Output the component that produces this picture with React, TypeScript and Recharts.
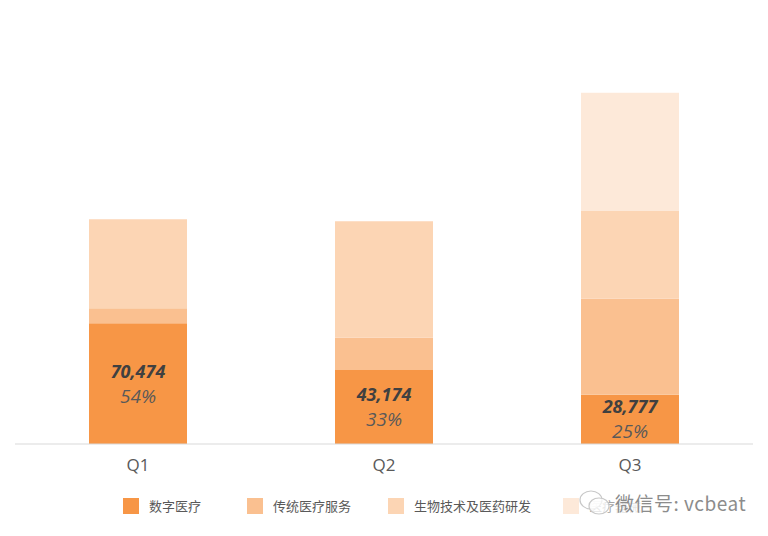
import { BarChart, Bar, XAxis, YAxis, LabelList } from "recharts";

const quarters = ["Q1", "Q2", "Q3"];
const digital = [70474, 43174, 28777];
const traditional = [8700, 18800, 55900];
const biotech = [51900, 68000, 51300];
const devices = [0, 0, 68900];
const digitalShare = ["54%", "33%", "25%"];

const seriesNames = ["数字医疗", "传统医疗服务", "生物技术及医药研发", "医疗器械"];
const colors = ["#F79646", "#FAC090", "#FCD5B4", "#FDE9D9"];
const legendLeft = [123, 247, 388, 563];

const data = quarters.map((q, i) => ({
  name: q,
  digital: digital[i],
  traditional: traditional[i],
  biotech: biotech[i],
  devices: devices[i],
  share: digitalShare[i],
}));

const font = "'Open Sans', 'Noto Sans CJK SC', sans-serif";
const cjk = "'Noto Sans CJK SC', sans-serif";

function InnerLabel(props: any) {
  const { x, y, width, height, index } = props;
  const cx = x + width / 2;
  const cy = y + height / 2;
  return (
    <g>
      <text x={cx} y={cy - 13} textAnchor="middle" dominantBaseline="central"
        fontFamily={font} fontSize={18} fontWeight="bold" fontStyle="italic" fill="#404040">
        {digital[index].toLocaleString("en-US")}
      </text>
      <text x={cx} y={cy + 12} textAnchor="middle" dominantBaseline="central"
        fontFamily={font} fontSize={19} fontStyle="italic" fill="#595959">
        {digitalShare[index]}
      </text>
    </g>
  );
}

export default function App() {
  return (
    <div style={{ position: "absolute", left: 0, top: 0, width: 768, height: 536, background: "#fff", fontFamily: font }}>
      <BarChart width={768} height={536} data={data}
        margin={{ top: 84, right: 15, bottom: 62, left: 15 }}>
        <XAxis dataKey="name" axisLine={{ stroke: "#D9D9D9" }} tickLine={false}
          tickSize={0} tickMargin={15} height={30}
          tick={{ fill: "#595959", fontSize: 17, fontFamily: font }} />
        <YAxis hide domain={[0, 210000]} />
        <Bar dataKey="digital" stackId="a" fill={colors[0]} barSize={98} isAnimationActive={false}>
          <LabelList dataKey="digital" content={InnerLabel} />
        </Bar>
        <Bar dataKey="traditional" stackId="a" fill={colors[1]} barSize={98} isAnimationActive={false} />
        <Bar dataKey="biotech" stackId="a" fill={colors[2]} barSize={98} isAnimationActive={false} />
        <Bar dataKey="devices" stackId="a" fill={colors[3]} barSize={98} isAnimationActive={false} />
      </BarChart>

      {seriesNames.map((n, i) => (
        <div key={n} style={{ position: "absolute", left: legendLeft[i], top: 498, display: "flex", alignItems: "center" }}>
          <span style={{ width: 16, height: 16, background: colors[i], display: "inline-block" }} />
          <span style={{ marginLeft: 10, fontSize: 13, color: i === 3 ? "#A6A6A6" : "#595959", fontFamily: cjk,
            lineHeight: "16px", whiteSpace: "nowrap" }}>{n}</span>
        </div>
      ))}

      {/* watermark over the last legend entry */}
      <svg style={{ position: "absolute", left: 578, top: 488 }} width={34} height={30}>
        <ellipse cx={13} cy={12} rx={11} ry={9} fill="rgba(255,255,255,0.75)" stroke="#C8C8C8" strokeWidth={1.2} />
        <ellipse cx={21} cy={18} rx={10} ry={8} fill="rgba(255,255,255,0.75)" stroke="#C8C8C8" strokeWidth={1.2} />
      </svg>
      <div style={{ position: "absolute", left: 615, top: 491, fontSize: 19, color: "#8C8C8C",
        fontFamily: cjk, lineHeight: "24px", letterSpacing: 0.5, background: "rgba(255,255,255,0.7)" }}>
        微信号: vcbeat
      </div>
    </div>
  );
}
